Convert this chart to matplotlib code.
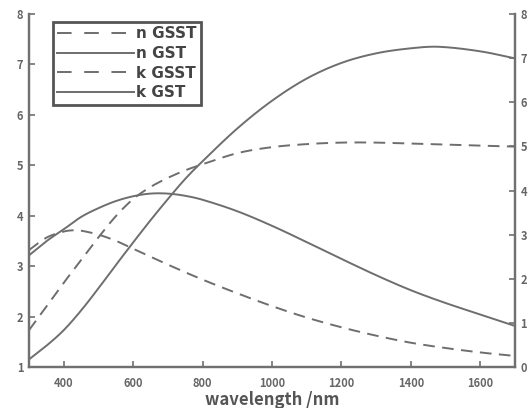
import matplotlib
matplotlib.use("Agg")
import matplotlib.pyplot as plt
from matplotlib.lines import Line2D
import numpy as np

plt.rcParams['font.family'] = ['Noto Sans CJK JP', 'DejaVu Sans']

wl_n_gsst = [300, 350, 400, 450, 500, 550, 600, 650, 700, 750, 800, 900, 1000, 1100, 1200, 1300, 1400, 1500, 1600, 1700]
n_gsst = [1.73, 2.2, 2.67, 3.12, 3.57, 3.99, 4.33, 4.57, 4.75, 4.9, 5.02, 5.24, 5.36, 5.42, 5.45, 5.45, 5.43, 5.41, 5.39, 5.37]

wl_n_gst = [300, 350, 400, 450, 500, 550, 600, 650, 700, 750, 800, 900, 1000, 1100, 1200, 1300, 1400, 1480, 1600, 1700]
n_gst = [1.15, 1.42, 1.73, 2.12, 2.56, 3.02, 3.47, 3.91, 4.33, 4.73, 5.08, 5.73, 6.28, 6.72, 7.03, 7.22, 7.32, 7.35, 7.26, 7.12]

wl_k_gsst = [300, 350, 400, 430, 450, 500, 550, 600, 700, 800, 900, 1000, 1100, 1200, 1300, 1400, 1500, 1600, 1700]
k_gsst = [2.65, 2.93, 3.07, 3.1, 3.09, 3.0, 2.86, 2.68, 2.32, 1.98, 1.67, 1.38, 1.12, 0.9, 0.71, 0.55, 0.43, 0.33, 0.25]

wl_k_gst = [300, 350, 400, 450, 500, 550, 600, 650, 700, 750, 800, 900, 1000, 1100, 1200, 1300, 1400, 1500, 1600, 1700]
k_gst = [2.53, 2.85, 3.12, 3.4, 3.6, 3.76, 3.87, 3.93, 3.93, 3.88, 3.79, 3.53, 3.2, 2.83, 2.45, 2.08, 1.74, 1.45, 1.19, 0.93]

x_ticks = [400, 600, 800, 1000, 1200, 1400, 1600]
left_ticks = [1, 2, 3, 4, 5, 6, 7, 8]
right_ticks = [0, 1, 2, 3, 4, 5, 6, 7, 8]
labels = ['n GSST', 'n GST', 'k GSST', 'k GST']


def smooth(x, y):
    x = np.asarray(x, float)
    y = np.asarray(y, float)
    xs = np.linspace(x.min(), x.max(), 400)
    out = []
    for xv in xs:
        i = np.searchsorted(x, xv) - 1
        i = min(max(i, 0), len(x) - 2)
        x0, x1 = x[i], x[i + 1]
        p1, p2 = y[i], y[i + 1]
        if i > 0:
            m1 = (y[i + 1] - y[i - 1]) / (x[i + 1] - x[i - 1])
        else:
            m1 = (p2 - p1) / (x1 - x0)
        if i + 2 < len(x):
            m2 = (y[i + 2] - y[i]) / (x[i + 2] - x[i])
        else:
            m2 = (p2 - p1) / (x1 - x0)
        h = x1 - x0
        t = (xv - x0) / h
        h00 = 2*t**3 - 3*t**2 + 1
        h10 = t**3 - 2*t**2 + t
        h01 = -2*t**3 + 3*t**2
        h11 = t**3 - t**2
        out.append(h00*p1 + h10*h*m1 + h01*p2 + h11*h*m2)
    return xs, np.array(out)


gray = '#6e6e6e'
axc = '#707070'
lw = 1.4
dash = (0, (6, 3.8))

fig = plt.figure(figsize=(5.31, 4.08), dpi=100)
ax = fig.add_axes([29/531, 1 - 367/408, (515 - 29)/531, (367 - 14)/408])
ax2 = ax.twinx()

ax.plot(*smooth(wl_n_gsst, n_gsst), color=gray, lw=lw, linestyle=dash)
ax.plot(*smooth(wl_n_gst, n_gst), color=gray, lw=lw)
ax2.plot(*smooth(wl_k_gsst, k_gsst), color=gray, lw=lw, linestyle=dash)
ax2.plot(*smooth(wl_k_gst, k_gst), color=gray, lw=lw)

ax.set_xlim(300, 1700)
ax.set_ylim(1, 8)
ax2.set_ylim(0, 8)
ax.set_xticks(x_ticks)
ax.set_yticks(left_ticks)
ax2.set_yticks(right_ticks)

for a in (ax, ax2):
    for s in a.spines.values():
        s.set_color(axc)
        s.set_linewidth(1.6)
    a.spines['top'].set_visible(False)
    a.tick_params(direction='in', length=4, width=1.2, color=axc, labelcolor='#666666', labelsize=8)
    for lab in a.get_xticklabels() + a.get_yticklabels():
        lab.set_fontweight('bold')
ax.tick_params(axis='y', pad=4)
ax2.tick_params(axis='y', pad=4)
ax.tick_params(axis='x', pad=7)

ax.set_xlabel('wavelength /nm', fontsize=12, color='#555555', fontweight='bold', labelpad=1)

leg_dash = (0, (7.5, 6.5))
handles = [Line2D([], [], color=gray, lw=lw, linestyle=leg_dash),
           Line2D([], [], color=gray, lw=lw),
           Line2D([], [], color=gray, lw=lw, linestyle=leg_dash),
           Line2D([], [], color=gray, lw=lw)]
leg = ax.legend(handles=handles, labels=labels, loc='upper left', bbox_to_anchor=(0.049, 0.978),
                fancybox=False, framealpha=1, edgecolor='#555555', handlelength=5.0,
                handletextpad=0.15, borderpad=0.3, labelspacing=0.3, borderaxespad=0,
                prop={'family': 'DejaVu Sans', 'weight': 'bold', 'size': 11})
leg.get_frame().set_linewidth(2)
for t in leg.get_texts():
    t.set_color('#444444')

fig.savefig('out.png', dpi=100)
